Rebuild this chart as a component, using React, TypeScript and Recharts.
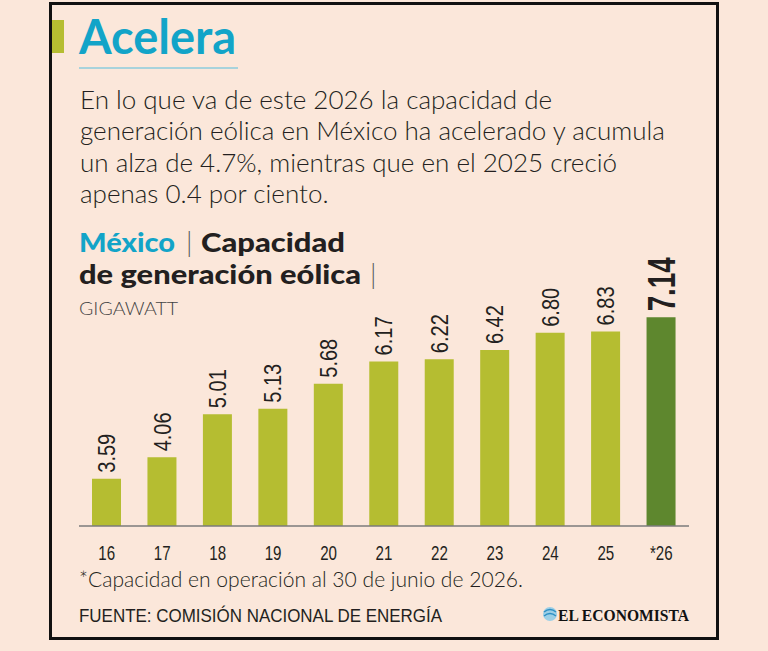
import React from 'react';
import { BarChart, Bar, XAxis, YAxis, Cell, LabelList } from 'recharts';

// Capacidad eólica instalada en México (GW)
const years = ['16', '17', '18', '19', '20', '21', '22', '23', '24', '25', '*26'];
const capacity = [3.59, 4.06, 5.01, 5.13, 5.68, 6.17, 6.22, 6.42, 6.8, 6.83, 7.14];

const introLines = [
  'En lo que va de este 2026 la capacidad de',
  'generación eólica en México ha acelerado y acumula',
  'un alza de 4.7%, mientras que en el 2025 creció',
  'apenas 0.4 por ciento.',
];

const BG = '#fbe7da';
const CYAN = '#12a4c8';
const OLIVE = '#b5bd31';
const DARK_GREEN = '#5e872e';
const INK = '#231f20';
const SANS = '"Liberation Sans", Arial, sans-serif';
const BODY = 'Lato, "Open Sans", sans-serif';

const data = years.map((year, i) => ({ year, value: capacity[i] }));
const lastIdx = data.length - 1;

// rough advance widths (em) for Liberation Sans, used to squeeze labels into a condensed look
const charWidth = (c: string) => {
  if (c === '.') return 0.278;
  if (c === '*') return 0.389;
  return 0.556;
};
const condensed = (s: string, fontSize: number, squeeze: number) =>
  s.split('').reduce((w, c) => w + charWidth(c), 0) * fontSize * squeeze;

// vertical value labels sitting just above each bar
const ValueLabel = (props: any) => {
  const { x, y, width, value, index } = props;
  const isLast = index === lastIdx;
  const fontSize = isLast ? 38 : 24;
  const cap = fontSize * 0.72;
  const px = x + width / 2 + cap / 2;
  const py = y - 6;
  const label = Number(value).toFixed(2);
  return (
    <text
      x={px}
      y={py}
      transform={`rotate(-90, ${px}, ${py})`}
      textAnchor="start"
      fontFamily={SANS}
      fontSize={fontSize}
      fontWeight={isLast ? 700 : 400}
      fill={INK}
      textLength={isLast ? 54 : 39}
      lengthAdjust="spacingAndGlyphs"
    >
      {label}
    </text>
  );
};

const YearTick = (props: any) => {
  const { x, y, payload } = props;
  const w = condensed(payload.value, 21, 0.72);
  return (
    <text
      x={x - w / 2}
      y={y + 26}
      fontFamily={SANS}
      fontSize={21}
      fill={INK}
      textLength={w}
      lengthAdjust="spacingAndGlyphs"
    >
      {payload.value}
    </text>
  );
};

export default function App() {
  return (
    <div style={{ position: 'fixed', left: 0, top: 0, width: 768, height: 651, background: BG, overflow: 'hidden' }}>
      {/* outer frame */}
      <div
        style={{
          position: 'absolute',
          left: 49,
          top: 2,
          width: 664,
          height: 632,
          border: '3px solid #111',
        }}
      />

      <div style={{ position: 'absolute', left: 0, top: 0 }}>
        <BarChart width={768} height={651} data={data} margin={{ top: 301, right: 79, bottom: 95, left: 79 }}>
          <YAxis hide domain={[2.55, 7.5]} />
          <XAxis
            dataKey="year"
            height={30}
            axisLine={{ stroke: '#7b7b7b', strokeWidth: 1.5 }}
            tickLine={false}
            tick={<YearTick />}
            interval={0}
          />
          <Bar dataKey="value" barSize={29} isAnimationActive={false}>
            {data.map((d, i) => (
              <Cell key={d.year} fill={i === lastIdx ? DARK_GREEN : OLIVE} />
            ))}
            <LabelList dataKey="value" content={<ValueLabel />} />
          </Bar>
        </BarChart>
      </div>

      {/* headings, notes and source */}
      <svg width={768} height={651} style={{ position: 'absolute', left: 0, top: 0, pointerEvents: 'none' }}>
        <rect x={52} y={20} width={12} height={33} fill={OLIVE} />
        <text x={79} y={54} fontFamily={BODY} fontWeight={700} fontSize={47} fill={CYAN}>
          Acelera
        </text>
        <rect x={79} y={67} width={159} height={2} fill="#a8d3dc" />

        {introLines.map((line, i) => (
          <text key={i} x={80} y={109 + i * 31.3} fontFamily={BODY} fontWeight={300} fontSize={26} fill={INK}>
            {line}
          </text>
        ))}

        <text x={79} y={252} fontFamily={BODY} fontWeight={900} fontSize={27} fill={CYAN} textLength={96} lengthAdjust="spacingAndGlyphs">
          México
        </text>
        <text x={186} y={252} fontFamily={BODY} fontWeight={300} fontSize={27} fill="#555">
          |
        </text>
        <text x={201} y={252} fontFamily={BODY} fontWeight={900} fontSize={27} fill={INK} textLength={144} lengthAdjust="spacingAndGlyphs">
          Capacidad
        </text>
        <text x={79} y={284} fontFamily={BODY} fontWeight={900} fontSize={27} fill={INK} textLength={282} lengthAdjust="spacingAndGlyphs">
          de generación eólica
        </text>
        <text x={370} y={284} fontFamily={BODY} fontWeight={300} fontSize={27} fill="#555">
          |
        </text>
        <text x={79} y={315} fontFamily={BODY} fontWeight={300} fontSize={17} fill="#444" textLength={99} lengthAdjust="spacingAndGlyphs">
          GIGAWATT
        </text>

        <text x={79} y={587} fontFamily={BODY} fontWeight={300} fontSize={21} fill={INK} textLength={444} lengthAdjust="spacingAndGlyphs">
          *Capacidad en operación al 30 de junio de 2026.
        </text>
        <text x={79} y={622} fontFamily={SANS} fontSize={19} fill={INK} textLength={363} lengthAdjust="spacingAndGlyphs">
          FUENTE: COMISIÓN NACIONAL DE ENERGÍA
        </text>

        <circle cx={550} cy={614} r={7} fill="#9ccfe6" />
        <path d="M544 612 q6 -5 12 0 M544 616 q6 -5 12 0" stroke="#2d8fc4" strokeWidth={1.5} fill="none" />
        <text
          x={558}
          y={621}
          fontFamily='"Liberation Serif", serif'
          fontWeight={700}
          fontSize={17}
          fill="#111"
          textLength={131}
          lengthAdjust="spacingAndGlyphs"
        >
          EL ECONOMISTA
        </text>
      </svg>
    </div>
  );
}
